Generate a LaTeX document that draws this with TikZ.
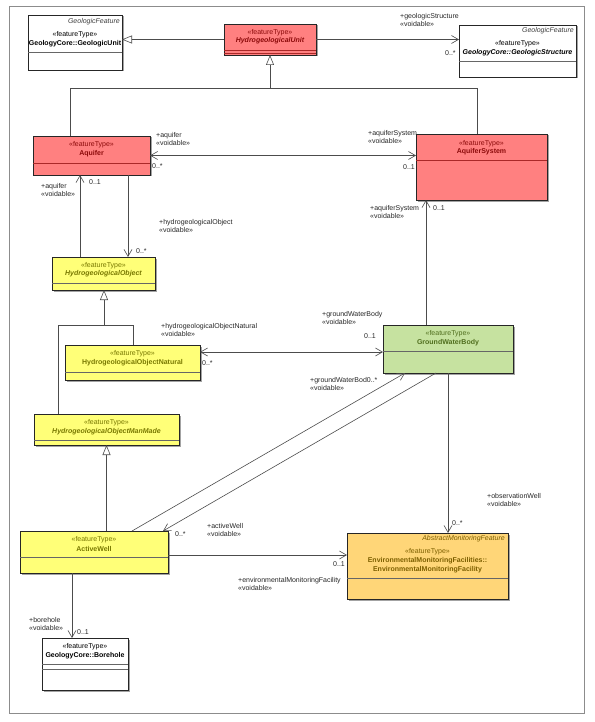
\documentclass[tikz,border=0pt]{standalone}
\usepackage{fontspec}
\setmainfont{Liberation Sans}
\usetikzlibrary{arrows.meta,calc,shadows}
\definecolor{redfill}{RGB}{255,128,128}
\definecolor{redtxt}{RGB}{140,10,10}
\definecolor{redsep}{RGB}{170,40,40}
\definecolor{yelfill}{RGB}{255,255,120}
\definecolor{yeltxt}{RGB}{120,120,0}
\definecolor{grnfill}{RGB}{198,226,160}
\definecolor{grntxt}{RGB}{80,110,30}
\definecolor{orafill}{RGB}{255,214,120}
\definecolor{oratxt}{RGB}{125,95,0}
\newcommand{\sepline}[3][black!60]{\draw[draw=#1, line width=0.5pt] (#2.west |- 0,#3) -- (#2.east |- 0,#3);}
\begin{document}
\begin{tikzpicture}[x=1pt,y=-1pt,
  font=\fontsize{7}{8.5}\selectfont,
  box/.style={draw=black!85, line width=0.6pt, inner sep=0pt, outer sep=0pt, anchor=north west,
    drop shadow={shadow xshift=1.5pt, shadow yshift=-1.5pt, fill=black!45, opacity=0.8}},
  txt/.style={inner sep=0pt},
  stereo/.style={txt},
  nm/.style={txt, font=\fontsize{7}{8.5}\selectfont\bfseries},
  nmi/.style={txt, font=\fontsize{7}{8.5}\selectfont\bfseries\itshape},
  absn/.style={txt, anchor=east, font=\fontsize{7}{8.5}\selectfont\itshape, text=black!75},
  lbl/.style={inner sep=0pt, anchor=north west, align=left, text=black!85},
  mul/.style={inner sep=0pt, anchor=west, text=black!85},
  conn/.style={draw=black!70, line width=0.6pt},
  assoc/.style={conn, -{Straight Barb[length=7pt,width=8pt]}},
  both/.style={conn, {Straight Barb[length=7pt,width=8pt]}-{Straight Barb[length=7pt,width=8pt]}},
  gen/.style={conn, -{Triangle[open, length=10pt, width=8pt, fill=white]}}
]
\useasboundingbox (0,0) rectangle (594,722);
\draw[black!45, line width=0.6pt] (9,6) rectangle (584,713);

% ---------- boxes ----------
% GeologicUnit
\node[box, fill=white, minimum width=94pt, minimum height=55pt] (gu) at (28,15) {};
\node[absn] (gua) at (120,22) {GeologicFeature};
\node[stereo] (gus) at (75,35) {«featureType»};
\node[nm] (gun) at (75,44) {GeologyCore::GeologicUnit};
\sepline{gu}{52}

% HydrogeologicalUnit
\node[box, fill=redfill, minimum width=92pt, minimum height=31pt] (hu) at (224,24) {};
\node[stereo, text=redtxt] (hus) at (270,33) {«featureType»};
\node[nmi, text=redtxt] (hun) at (270,41) {HydrogeologicalUnit};
\sepline[redsep]{hu}{50}
\sepline[redsep]{hu}{53}

% GeologicStructure
\node[box, fill=white, minimum width=117pt, minimum height=52pt] (gs) at (459,25) {};
\node[absn] (gsa) at (574,31) {GeologicFeature};
\node[stereo] (gss) at (517.5,44) {«featureType»};
\node[nmi] (gsn) at (517.5,53) {GeologyCore::GeologicStructure};
\sepline{gs}{61}

% Aquifer
\node[box, fill=redfill, minimum width=117pt, minimum height=39pt] (aq) at (33,136) {};
\node[stereo, text=redtxt] (aqs) at (91.5,145) {«featureType»};
\node[nm, text=redtxt] (aqn) at (91.5,154) {Aquifer};
\sepline[redsep]{aq}{163}

% AquiferSystem
\node[box, fill=redfill, minimum width=131pt, minimum height=66pt] (as) at (416,134) {};
\node[stereo, text=redtxt] (ass) at (481.5,144) {«featureType»};
\node[nm, text=redtxt] (asn) at (481.5,152) {AquiferSystem};
\sepline[redsep]{as}{160}

% HydrogeologicalObject
\node[box, fill=yelfill, minimum width=103pt, minimum height=33pt] (ho) at (52,257) {};
\node[stereo, text=yeltxt] (hos) at (103.5,266) {«featureType»};
\node[nmi, text=yeltxt] (hon-) at (103.5,274) {HydrogeologicalObject};
\sepline[black!60]{ho}{283}

% HydrogeologicalObjectNatural
\node[box, fill=yelfill, minimum width=135pt, minimum height=35pt] (hon) at (65,345) {};
\node[stereo, text=yeltxt] (hons) at (132.5,354) {«featureType»};
\node[nm, text=yeltxt] (honn) at (132.5,363) {HydrogeologicalObjectNatural};
\sepline[black!60]{hon}{372}

% GroundWaterBody
\node[box, fill=grnfill, minimum width=130pt, minimum height=48pt] (gwb) at (383,325) {};
\node[stereo, text=grntxt] (gwbs) at (448,334) {«featureType»};
\node[nm, text=grntxt] (gwbn) at (448,343) {GroundWaterBody};
\sepline[black!60]{gwb}{351}

% HydrogeologicalObjectManMade
\node[box, fill=yelfill, minimum width=145pt, minimum height=31pt] (homm) at (34,414) {};
\node[stereo, text=yeltxt] (homms) at (106.5,423) {«featureType»};
\node[nmi, text=yeltxt] (hommn) at (106.5,432) {HydrogeologicalObjectManMade};
\sepline[black!60]{homm}{440}

% ActiveWell
\node[box, fill=yelfill, minimum width=148pt, minimum height=42pt] (aw) at (20,531) {};
\node[stereo, text=yeltxt] (aws) at (94,540) {«featureType»};
\node[nm, text=yeltxt] (awn) at (94,549) {ActiveWell};
\sepline[black!60]{aw}{557}

% EnvironmentalMonitoringFacility
\node[box, fill=orafill, minimum width=161pt, minimum height=66pt] (emf) at (347,533) {};
\node[absn, text=oratxt] (emfa) at (505,539) {AbstractMonitoringFeature};
\node[stereo, text=oratxt] (emfs) at (427.5,552) {«featureType»};
\node[nm, text=oratxt] (emfn1) at (427.5,561) {EnvironmentalMonitoringFacilities::};
\node[nm, text=oratxt] (emfn2) at (427.5,570) {EnvironmentalMonitoringFacility};
\sepline[black!60]{emf}{578}

% Borehole
\node[box, fill=white, minimum width=86pt, minimum height=52pt] (bh) at (42,638) {};
\node[stereo] (bhs) at (85,647) {«featureType»};
\node[nm] (bhn) at (85,656) {GeologyCore::Borehole};
\sepline{bh}{664}
\sepline{bh}{669}

% ---------- connectors ----------
\draw[gen] (hu.west) -- (gu.east |- hu.west);
\draw[assoc] (hu.east) -- (gs.west |- hu.east);

\coordinate (g1) at (270,88);
\coordinate (j1) at (70,88);
\coordinate (j2) at (477,88);
\draw[conn] (aq.north -| j1) -- (j1) -- (j2) -- (as.north -| j2);
\draw[gen] (g1) -- (hu.south);

\draw[both] (aq.east) -- (as.west |- aq.east);

\coordinate (xa) at (80,0);
\coordinate (xb) at (128,0);
\draw[assoc] (ho.north -| xa) -- (aq.south -| xa);
\draw[assoc] (aq.south -| xb) -- (ho.north -| xb);

\coordinate (xc) at (426,0);
\draw[assoc] (gwb.north -| xc) -- (as.south -| xc);

\coordinate (g2) at (104,325);
\coordinate (j3) at (58,325);
\coordinate (j4) at (133,325);
\draw[conn] (homm.north -| j3) -- (j3) -- (j4) -- (hon.north -| j4);
\draw[gen] (g2) -- (ho.south -| g2);

\coordinate (yd) at (0,352);
\draw[both] (hon.east |- yd) -- (gwb.west |- yd);

\draw[gen] (aw.north -| homm.south) -- (homm.south);

\draw[assoc] ($(aw.north west)+(112,0)$) -- ($(gwb.south west)+(22,0)$);
\draw[assoc] ($(gwb.south west)+(53,0)$) -- ($(aw.north west)+(143,0)$);

\draw[assoc] (gwb.south) -- (emf.north -| gwb.south);

\coordinate (ye) at (0,555);
\draw[assoc] (aw.east |- ye) -- (emf.west |- ye);

\coordinate (xf) at (72,0);
\draw[assoc] (aw.south -| xf) -- (bh.north -| xf);

% ---------- labels ----------
\node[lbl] (l1) at (400,13) {+geologicStructure\\«voidable»};
\node[mul] (l2) at (445,53) {0..*};
\node[lbl] (l3) at (156,132) {+aquifer\\«voidable»};
\node[mul] (l4) at (152,166) {0..*};
\node[lbl] (l5) at (368,130) {+aquiferSystem\\«voidable»};
\node[mul] (l6) at (403,167) {0..1};
\node[lbl] (l7) at (41,183) {+aquifer\\«voidable»};
\node[mul] (l8) at (89,182) {0..1};
\node[lbl] (l9) at (159,219) {+hydrogeologicalObject\\«voidable»};
\node[mul] (l10) at (136,251) {0..*};
\node[lbl] (l11) at (370,205) {+aquiferSystem\\«voidable»};
\node[mul] (l12) at (433,208) {0..1};
\node[lbl] (l13) at (161,323) {+hydrogeologicalObjectNatural\\«voidable»};
\node[mul] (l14) at (202,363) {0..*};
\node[lbl] (l15) at (322,311) {+groundWaterBody\\«voidable»};
\node[mul] (l16) at (364,336) {0..1};
\node[lbl] (l17) at (310,377) {+groundWaterBod0..*\\«voidable»};
\node[mul] (l18) at (175,534) {0..*};
\node[lbl] (l19) at (207,523) {+activeWell\\«voidable»};
\node[lbl] (l20) at (487,493) {+observationWell\\«voidable»};
\node[mul] (l21) at (452,523) {0..*};
\node[mul] (l22) at (333,564) {0..1};
\node[lbl] (l23) at (238,577) {+environmentalMonitoringFacility\\«voidable»};
\node[lbl] (l24) at (29,617) {+borehole\\«voidable»};
\node[mul] (l25) at (77,632) {0..1};
\end{tikzpicture}
\end{document}
